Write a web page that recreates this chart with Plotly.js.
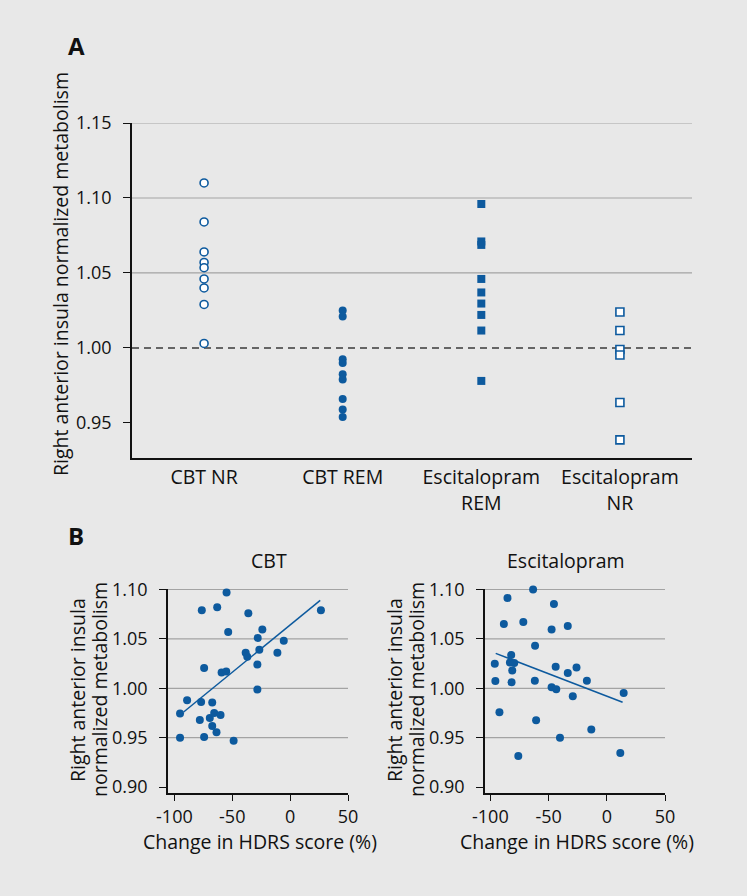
<!DOCTYPE html>
<html>
<head>
<meta charset="utf-8">
<script src="https://cdn.plot.ly/plotly-3.0.1.min.js"></script>
<style>
  html, body { margin: 0; padding: 0; background: #e8e8e8; }
  #chart { width: 747px; height: 896px; }
</style>
</head>
<body>
<div id="chart"></div>
<script>
// Panel A: group labels and values
const groupLabels = ['CBT NR', 'CBT REM', 'Escitalopram<br>REM', 'Escitalopram<br>NR'];
const cbtNR = [1.110, 1.084, 1.064, 1.057, 1.0535, 1.046, 1.040, 1.029, 1.003];
const cbtREM = [1.025, 1.021, 0.9925, 0.990, 0.9825, 0.979, 0.966, 0.959, 0.954];
const escREM = [1.096, 1.071, 1.0687, 1.046, 1.037, 1.0296, 1.022, 1.0116, 0.978];
const escNR = [1.024, 1.0116, 0.999, 0.9953, 0.9636, 0.9387];
const refLevel = 1.00;
const gridA = [1.05, 1.10, 1.15];
const ticksA = [0.95, 1.00, 1.05, 1.10, 1.15];

// Panel B: change in HDRS (%) vs metabolism
const cbtChange = [-4.6, -54.9, -76.3, -63.0, -36.1, 26.6, -53.5, -24.0, -28.0, -5.5, -26.6, -38.4,
    -37.0, -11.0, -74.3, -59.2, -55.2, -28.3, -28.3, -89.0, -76.9, -67.3, -95.1, -78.0, -69.4,
    -65.6, -60.1, -67.3, -63.6, -95.1, -74.3, -48.8];
const cbtMetab = [1.104, 1.097, 1.079, 1.082, 1.076, 1.079, 1.057, 1.0595, 1.051, 1.048, 1.039, 1.036,
    1.032, 1.036, 1.0205, 1.016, 1.017, 1.024, 0.9987, 0.988, 0.986, 0.9855, 0.9745, 0.968, 0.970,
    0.975, 0.973, 0.9617, 0.9556, 0.950, 0.9506, 0.9469];
const cbtFitX = [-92, 26];
const cbtFitY = [0.976, 1.089];

const escChange = [-63.3, -85.3, -45.4, -88.4, -71.7, -47.4, -33.5, -61.6, -96.2, -82.1, -83.2, -79.5,
    -81.2, -43.9, -33.5, -26.0, -95.7, -81.8, -61.8, -17.1, -47.4, -43.4, 14.5, -29.2, -92.2,
    -60.7, -13.3, -40.2, -76.0, 11.6];
const escMetab = [1.100, 1.0914, 1.0854, 1.065, 1.067, 1.0595, 1.063, 1.043, 1.0249, 1.0336, 1.026, 1.0255,
    1.018, 1.0218, 1.0155, 1.021, 1.0074, 1.006, 1.0077, 1.0077, 1.001, 0.999, 0.9953, 0.992, 0.9758,
    0.9677, 0.9583, 0.950, 0.9314, 0.9345];
const escFitX = [-95.4, 13.6];
const escFitY = [1.0353, 0.9859];

const gridB = [0.95, 1.00, 1.05, 1.10];
const ticksB = [0.90, 0.95, 1.00, 1.05, 1.10];
const ticksBx = [-100, -50, 0, 50];

const blue = '#0d5a9e';
const font = '"Open Sans", "Noto Sans", sans-serif';
const fontSize = 19.5;
const tickSize = 18;

function groupTrace(vals, idx, symbol, open) {
    return {
        x: vals.map(() => groupLabels[idx]),
        y: vals,
        type: 'scatter',
        mode: 'markers',
        xaxis: 'x', yaxis: 'y',
        cliponaxis: false,
        marker: {
            symbol: symbol,
            size: 8,
            color: open ? '#ffffff' : blue,
            line: { color: blue, width: open ? 1.6 : 0 }
        },
        hoverinfo: 'y'
    };
}

const traces = [
    groupTrace(cbtNR, 0, 'circle', true),
    groupTrace(cbtREM, 1, 'circle', false),
    groupTrace(escREM, 2, 'square', false),
    groupTrace(escNR, 3, 'square', true),
    {
        x: cbtChange, y: cbtMetab, type: 'scatter', mode: 'markers',
        xaxis: 'x2', yaxis: 'y2', cliponaxis: false,
        marker: { size: 8, color: blue }
    },
    {
        x: cbtFitX, y: cbtFitY, type: 'scatter', mode: 'lines',
        xaxis: 'x2', yaxis: 'y2', line: { color: blue, width: 1.5 }
    },
    {
        x: escChange, y: escMetab, type: 'scatter', mode: 'markers',
        xaxis: 'x3', yaxis: 'y3', cliponaxis: false,
        marker: { size: 8, color: blue }
    },
    {
        x: escFitX, y: escFitY, type: 'scatter', mode: 'lines',
        xaxis: 'x3', yaxis: 'y3', line: { color: blue, width: 1.5 }
    }
];

// gridlines drawn as shapes so that only the wanted levels show
const shapes = [];
gridA.forEach(v => shapes.push({
    type: 'line', xref: 'x domain', yref: 'y', x0: 0, x1: 1, y0: v, y1: v,
    layer: 'below', line: { color: '#a3a3a3', width: 1.2 }
}));
shapes.push({
    type: 'line', xref: 'x domain', yref: 'y', x0: 0, x1: 1, y0: refLevel, y1: refLevel,
    layer: 'below', line: { color: '#3a3a3a', width: 1.6, dash: '7px,5px' }
});
['2', '3'].forEach(n => {
    gridB.forEach(v => shapes.push({
        type: 'line', xref: 'x' + n + ' domain', yref: 'y' + n, x0: 0, x1: 1, y0: v, y1: v,
        layer: 'below', line: { color: '#a3a3a3', width: 1.2 }
    }));
});

const axisCommon = {
    showgrid: false,
    zeroline: false,
    showline: true,
    linecolor: '#111',
    linewidth: 1.5,
    ticks: 'outside',
    ticklen: 6,
    tickwidth: 1.3,
    tickcolor: '#111',
    tickfont: { size: tickSize, color: '#111' },
    fixedrange: true
};

const layout = {
    width: 747,
    height: 896,
    margin: { l: 0, r: 0, t: 0, b: 0 },
    paper_bgcolor: '#e8e8e8',
    plot_bgcolor: '#e8e8e8',
    font: { family: font, color: '#111' },
    showlegend: false,
    xaxis: Object.assign({}, axisCommon, {
        domain: [132 / 747, 692 / 747],
        anchor: 'y',
        type: 'category',
        range: [-0.52, 3.52],
        ticklen: 1,
        tickcolor: 'rgba(0,0,0,0)',
        tickfont: { size: fontSize, color: '#111' }
    }),
    yaxis: Object.assign({}, axisCommon, {
        domain: [1 - 458 / 896, 1 - 123 / 896],
        anchor: 'x',
        range: [0.9266, 1.15],
        tickvals: ticksA,
        tickformat: '.2f',
        ticklen: 7,
        ticklabelstandoff: 8
    }),
    xaxis2: Object.assign({}, axisCommon, {
        domain: [168 / 747, 348 / 747],
        anchor: 'y2',
        range: [-105.5, 50],
        tickvals: ticksBx,
        ticktext: ticksBx.map(String),
        ticklabelstandoff: 1
    }),
    yaxis2: Object.assign({}, axisCommon, {
        domain: [1 - 793 / 896, 1 - 589 / 896],
        anchor: 'x2',
        range: [0.894, 1.1005],
        tickvals: ticksB,
        tickformat: '.2f',
        ticklen: 7,
        ticklabelstandoff: 8
    }),
    xaxis3: Object.assign({}, axisCommon, {
        domain: [485 / 747, 665 / 747],
        anchor: 'y3',
        range: [-104.6, 50],
        tickvals: ticksBx,
        ticktext: ticksBx.map(String),
        ticklabelstandoff: 1
    }),
    yaxis3: Object.assign({}, axisCommon, {
        domain: [1 - 793 / 896, 1 - 589 / 896],
        anchor: 'x3',
        range: [0.894, 1.1005],
        tickvals: ticksB,
        tickformat: '.2f',
        ticklen: 7,
        ticklabelstandoff: 8
    }),
    shapes: shapes,
    annotations: [
        { text: '<b>A</b>', x: 76 / 747, y: 1 - 46 / 896 },
        { text: '<b>B</b>', x: 76 / 747, y: 1 - 535 / 896 },
        { text: 'Right anterior insula normalized metabolism', x: 60 / 747, y: 1 - 274 / 896, textangle: -90 },
        { text: 'CBT', x: 269 / 747, y: 1 - 560 / 896 },
        { text: 'Escitalopram', x: 566 / 747, y: 1 - 560 / 896 },
        { text: 'Right anterior insula', x: 77 / 747, y: 1 - 690 / 896, textangle: -90 },
        { text: 'normalized metabolism', x: 99 / 747, y: 1 - 690 / 896, textangle: -90 },
        { text: 'Right anterior insula', x: 394 / 747, y: 1 - 690 / 896, textangle: -90 },
        { text: 'normalized metabolism', x: 416 / 747, y: 1 - 690 / 896, textangle: -90 },
        { text: 'Change in HDRS score (%)', x: 260 / 747, y: 1 - 841 / 896 },
        { text: 'Change in HDRS score (%)', x: 577 / 747, y: 1 - 841 / 896 }
    ].map(a => Object.assign({
        xref: 'paper', yref: 'paper', showarrow: false,
        xanchor: 'center', yanchor: 'middle',
        font: { size: a.text.indexOf('<b>') === 0 ? 24 : fontSize, color: '#111' }
    }, a))
};

Plotly.newPlot('chart', traces, layout, { displayModeBar: false, responsive: false });
</script>
</body>
</html>
